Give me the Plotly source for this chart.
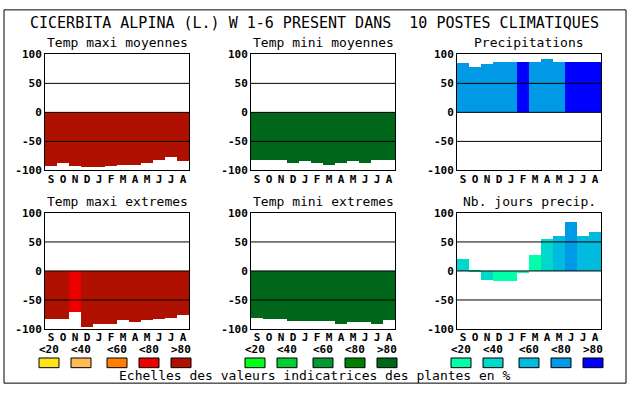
import plotly.graph_objects as go

W, H = 630, 394

months = ["S", "O", "N", "D", "J", "F", "M", "A", "M", "J", "J", "A"]

titles = ["Temp maxi moyennes", "Temp mini moyennes", "Precipitations",
          "Temp maxi extremes", "Temp mini extremes", "Nb. jours precip."]

tmax_moy = [-93, -88, -93, -95, -95, -93, -92, -92, -87, -82, -78, -85]
tmax_moy_cls = [4, 4, 4, 4, 4, 4, 4, 4, 4, 4, 4, 4]
tmin_moy = [-82, -83, -83, -87, -85, -87, -92, -87, -85, -87, -82, -82]
tmin_moy_cls = [4, 4, 4, 4, 4, 4, 4, 4, 4, 4, 4, 4]
precip = [84, 77, 82, 87, 87, 86, 86, 92, 87, 87, 87, 86]
precip_cls = [3, 3, 3, 3, 3, 4, 3, 3, 3, 4, 4, 4]
tmax_ext = [-83, -83, -71, -96, -91, -91, -84, -88, -84, -83, -81, -76]
tmax_ext_cls = [4, 4, 3, 4, 4, 4, 4, 4, 4, 4, 4, 4]
tmin_ext = [-81, -83, -83, -86, -86, -86, -86, -91, -88, -88, -91, -84]
tmin_ext_cls = [4, 4, 4, 4, 4, 4, 4, 4, 4, 4, 4, 4]
nb_jours = [21, 2, -16, -18, -18, -4, 27, 56, 61, 84, 61, 67]
nb_jours_cls = [1, 0, 1, 0, 0, 0, 0, 1, 2, 3, 2, 2]

reds = ["#FFE619", "#FFBB55", "#FF8000", "#EE0000", "#B01000"]
greens = ["#00FF19", "#00CC33", "#009933", "#007F00", "#006619"]
blues = ["#00FFAA", "#00D8CC", "#00BBDD", "#0099E6", "#0000FF"]
scale_labels = ["<20", "<40", "<60", "<80", ">80"]

yticks = [100, 50, 0, -50, -100]

panels = [
    (tmax_moy, tmax_moy_cls, reds),
    (tmin_moy, tmin_moy_cls, greens),
    (precip, precip_cls, blues),
    (tmax_ext, tmax_ext_cls, reds),
    (tmin_ext, tmin_ext_cls, greens),
    (nb_jours, nb_jours_cls, blues),
]

col_px = [(45, 189), (251, 395), (457, 601)]
row_px = [(50, 170), (214, 334)]

def px(x):
    return x / W

def py(y):
    return 1 - y / H

MONO = "DejaVu Sans Mono"
fig = go.Figure()
layout = dict(width=W, height=H, autosize=False,
              margin=dict(l=0, r=0, t=0, b=0),
              paper_bgcolor="white", plot_bgcolor="white",
              showlegend=False, bargap=0,
              font=dict(family=MONO, color="black"))
shapes = []
annotations = []

for i, (vals, cls, pal) in enumerate(panels):
    r, c = divmod(i, 3)
    n = i + 1
    xa = "x" if n == 1 else f"x{n}"
    ya = "y" if n == 1 else f"y{n}"
    fig.add_trace(go.Bar(x=list(range(12)), y=vals,
                         marker=dict(color=[pal[k] for k in cls], line=dict(width=0)),
                         xaxis=xa, yaxis=ya, width=1.0, hoverinfo="skip"))
    x0, x1 = col_px[c]
    y0, y1 = row_px[r]
    layout["xaxis" + ("" if n == 1 else str(n))] = dict(
        domain=[px(x0), px(x1)], anchor=ya, range=[-0.5, 11.5],
        tickmode="array", tickvals=list(range(12)),
        ticktext=["<b>%s</b>" % m for m in months],
        tickfont=dict(family=MONO, size=11, color="black"),
        ticklabelstandoff=-2,
        showgrid=False, zeroline=False, showline=True, mirror=True,
        linecolor="black", linewidth=1, ticks="", fixedrange=True)
    layout["yaxis" + ("" if n == 1 else str(n))] = dict(
        domain=[py(y1), py(y0)], anchor=xa, range=[-100, 100],
        tickmode="array", tickvals=yticks,
        ticktext=["<b>%d</b>" % t for t in yticks],
        tickfont=dict(family=MONO, size=11, color="black"),
        showgrid=False, zeroline=False, showline=True, mirror=True,
        linecolor="black", linewidth=1, ticks="", fixedrange=True)
    for gv in (50, 0, -50):
        shapes.append(dict(type="line", xref=xa + " domain", yref=ya,
                           x0=0, x1=1, y0=gv, y1=gv,
                           line=dict(color="black", width=1), layer="above"))
    annotations.append(dict(text=titles[i], xref="paper", yref="paper",
                            x=px((x0 + x1) / 2), y=py(y0 - 12),
                            xanchor="center", yanchor="middle", showarrow=False,
                            font=dict(family=MONO, size=13, color="black")))

# overall title
annotations.append(dict(text="CICERBITA ALPINA (L.) W 1-6 PRESENT DANS  10 POSTES CLIMATIQUES",
                        xref="paper", yref="paper", x=px(314), y=py(18),
                        xanchor="center", yanchor="middle", showarrow=False,
                        font=dict(family=MONO, size=15, color="black")))

# colour scales
swatch_x = [[39, 71, 107, 139, 171], [245, 277, 313, 345, 377], [451, 483, 519, 551, 583]]
for pal, xs in zip([reds, greens, blues], swatch_x):
    for k, sx in enumerate(xs):
        shapes.append(dict(type="rect", xref="paper", yref="paper",
                           x0=px(sx), x1=px(sx + 20), y0=py(374), y1=py(364),
                           fillcolor=pal[k], line=dict(color="black", width=1)))
        annotations.append(dict(text="<b>%s</b>" % scale_labels[k], xref="paper", yref="paper",
                                x=px(sx + 10), y=py(355), xanchor="center", yanchor="middle",
                                showarrow=False, font=dict(family=MONO, size=11, color="black")))

annotations.append(dict(text="Echelles des valeurs indicatrices des plantes en %",
                        xref="paper", yref="paper", x=px(315), y=py(382),
                        xanchor="center", yanchor="middle", showarrow=False,
                        font=dict(family=MONO, size=13, color="black")))

# outer frame
shapes.append(dict(type="rect", xref="paper", yref="paper",
                   x0=px(4), x1=px(626), y0=py(390), y1=py(4),
                   line=dict(color="black", width=1), fillcolor="rgba(0,0,0,0)"))

layout["shapes"] = shapes
layout["annotations"] = annotations
fig.update_layout(**layout)
fig.write_html("out.html", config={"displayModeBar": False},
               post_script="document.body.style.margin='0';document.body.style.overflow='hidden';")
